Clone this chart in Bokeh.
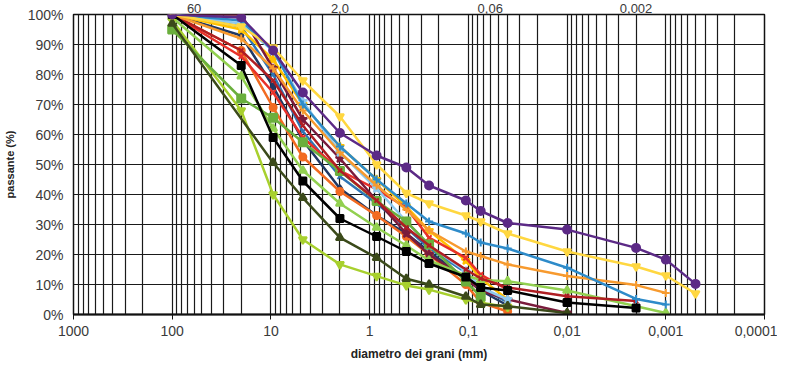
from bokeh.plotting import figure
from bokeh.models import Range1d, FixedTicker, PrintfTickFormatter, CustomJSTickFormatter, LogAxis
from bokeh.embed import file_html
from bokeh.resources import INLINE

# ---------------- data ----------------
purple_d = [100, 20, 9.5, 4.75, 2.0, 0.85, 0.425, 0.25, 0.106, 0.075, 0.04, 0.01, 0.002, 0.001, 0.0005]
purple_p = [100, 99, 88, 74, 60.5, 53, 49, 43, 38, 34.5, 30.5, 28.3, 22.2, 18.3, 10.2]

yellow_d = [100, 20, 9.5, 4.75, 2.0, 0.85, 0.425, 0.25, 0.106, 0.075, 0.04, 0.01, 0.002, 0.001, 0.0005]
yellow_p = [100, 96, 89, 78, 66, 50, 40.5, 37, 33, 31, 27, 21, 16, 13, 7]

blue_d = [100, 20, 9.5, 4.75, 2.0, 0.85, 0.425, 0.25, 0.106, 0.075, 0.04, 0.01, 0.002, 0.001]
blue_p = [100, 98, 88, 70, 56, 45, 37, 31, 27, 24, 22, 15.6, 5.2, 3.3]

orange_d = [100, 20, 9.5, 4.75, 2.0, 0.85, 0.425, 0.25, 0.106, 0.075, 0.04, 0.01, 0.002, 0.001]
orange_p = [100, 92, 82, 68, 54, 43, 35, 28, 21, 19.5, 16.7, 12.8, 9.8, 7.2]

darkred_d = [100, 20, 9.5, 4.75, 2.0, 0.85, 0.425, 0.25, 0.106, 0.075, 0.04, 0.01, 0.002]
darkred_p = [100, 88, 78, 63, 48, 38, 29, 23, 15, 12, 9, 6.1, 4.5]

black_d = [100, 20, 9.5, 4.75, 2.0, 0.85, 0.425, 0.25, 0.106, 0.075, 0.04, 0.01, 0.002]
black_p = [100, 83, 59, 44.5, 32, 26, 21, 17, 12.5, 9, 8, 4, 2.2]

olive_d = [100, 9.5, 4.75, 2.0, 0.85, 0.425, 0.25, 0.106, 0.075, 0.04, 0.01]
olive_p = [97, 50.6, 38.9, 25.6, 18.9, 11.9, 10, 6, 3.3, 2.8, 0.5]

green_d = [100, 20, 9.5, 4.75, 2.0, 0.85, 0.425, 0.25, 0.106, 0.075]
green_p = [95, 72, 65.6, 57.4, 47.8, 37.8, 31, 23.3, 11, 6]

lime_d = [100, 20, 9.5, 4.75, 2.0, 0.85, 0.425, 0.25, 0.106, 0.075, 0.04]
lime_p = [98, 68, 40, 25, 16.7, 12.8, 9.7, 8.3, 5, 3.9, 2.5]

lgreen_d = [100, 20, 9.5, 4.75, 2.0, 0.85, 0.425, 0.25, 0.106, 0.075, 0.04, 0.01, 0.001]
lgreen_p = [99, 79.4, 62, 48, 37, 29, 23, 18, 13, 11.5, 11.1, 8, 0.5]

lblue_d = [100, 20, 9.5, 4.75, 2.0, 0.85, 0.425, 0.25, 0.106, 0.075, 0.04]
lblue_p = [100, 97, 87.8, 71, 54, 42, 31, 23, 14.4, 9, 5]

maroon_d = [100, 20, 9.5, 4.75, 2.0, 0.85, 0.425, 0.25, 0.106, 0.075, 0.04, 0.01]
maroon_p = [100, 100, 82, 65, 52, 38, 27, 20, 12, 8, 5, 0.5]

red_d = [100, 20, 9.5, 4.75, 2.0, 0.85, 0.425, 0.25, 0.106, 0.075, 0.04]
red_p = [100, 86, 74, 59, 48, 41.7, 35.6, 25.6, 18.9, 13.3, 8.3]

orangered_d = [100, 20, 9.5, 4.75, 2.0, 0.85, 0.425, 0.25, 0.106, 0.075, 0.04]
orangered_p = [100, 88, 69, 52.5, 41, 33, 26, 20, 10, 4, 1]

gold_d = [100, 20, 9.5, 4.75, 2.0, 0.85, 0.425, 0.25, 0.106, 0.075, 0.04]
gold_p = [100, 95, 85, 70, 56, 45, 36, 28, 18, 12, 5]

navy_d = [100, 20, 9.5, 4.75, 2.0, 0.85, 0.425, 0.25, 0.106, 0.075, 0.04]
navy_p = [100, 93, 76, 58, 42, 33, 27, 21, 12, 8, 3]

midblue_d = [100, 20, 9.5, 4.75, 2.0, 0.85, 0.425, 0.25, 0.106, 0.075, 0.04]
midblue_p = [100, 96, 80, 61, 46, 37, 29, 22, 14, 9, 4]

x_major_ticks = [1000, 100, 10, 1, 0.1, 0.01, 0.001, 0.0001]
y_ticks = [0, 10, 20, 30, 40, 50, 60, 70, 80, 90, 100]
top_marks = [60, 2.0, 0.06, 0.002]
top_labels = ["60", "2,0", "0,06", "0,002"]

series = [
    (navy_d, navy_p, "#203864", "diamond", 7),
    (midblue_d, midblue_p, "#2F75B5", "x", 7),
    (gold_d, gold_p, "#FFC000", "star", 9),
    (orangered_d, orangered_p, "#F26B21", "circle", 7),
    (red_d, red_p, "#E8312A", "x", 7),
    (maroon_d, maroon_p, "#7A1B3C", "star", 9),
    (lblue_d, lblue_p, "#8EC9EE", "star", 9),
    (lgreen_d, lgreen_p, "#92D050", "triangle", 8),
    (lime_d, lime_p, "#A8D02E", "inverted_triangle", 8),
    (green_d, green_p, "#6AAF3D", "square", 8),
    (olive_d, olive_p, "#3B4A1A", "triangle", 8),
    (darkred_d, darkred_p, "#B01E23", "x", 6),
    (orange_d, orange_p, "#F79A2E", "cross", 8),
    (blue_d, blue_p, "#2E8BC9", "cross", 8),
    (black_d, black_p, "#000000", "square", 7),
    (yellow_d, yellow_p, "#FFD740", "inverted_triangle", 8),
    (purple_d, purple_p, "#5C2A86", "circle", 8),
]

FONT = "Liberation Sans"

p = figure(width=777, height=363, x_axis_type="log",
           x_range=Range1d(1000, 0.0001), y_range=Range1d(0, 100),
           output_backend="svg", toolbar_location=None,
           min_border_left=71, min_border_right=13, min_border_top=0, min_border_bottom=46)
p.background_fill_color = "white"
p.border_fill_color = "white"
p.outline_line_color = "#111111"
p.outline_line_width = 1.5

minor = [m * 10.0 ** k for k in range(-4, 3) for m in range(2, 10)]
p.xaxis.ticker = FixedTicker(ticks=x_major_ticks, minor_ticks=minor)
p.xaxis.formatter = CustomJSTickFormatter(code="return String(Number(tick.toPrecision(6))).replace('.', ',');")
p.yaxis.ticker = FixedTicker(ticks=y_ticks)
p.yaxis.formatter = PrintfTickFormatter(format="%d%%")

for g in (p.xgrid, p.ygrid):
    g.grid_line_color = "#1a1a1a"
    g.grid_line_width = 1.2
p.xgrid.minor_grid_line_color = "#1a1a1a"
p.xgrid.minor_grid_line_width = 1.2

for ax in (p.xaxis, p.yaxis):
    ax.axis_line_color = "#111111"
    ax.major_label_text_font = FONT
    ax.major_label_text_font_size = "14px"
    ax.major_label_text_color = "#3a3a3a"
    ax.minor_tick_line_color = None
    ax.axis_label_text_font = FONT
    ax.axis_label_text_font_style = "bold"
    ax.axis_label_text_color = "#222222"

p.xaxis.axis_line_width = 2
p.xaxis.major_tick_out = 5
p.xaxis.major_tick_in = 0
p.xaxis.major_tick_line_color = "#111111"
p.xaxis.major_label_standoff = 6
p.xaxis.axis_label = "diametro dei grani (mm)"
p.xaxis.axis_label_text_font_size = "12px"
p.xaxis.axis_label_standoff = 8

p.yaxis.major_tick_out = 0
p.yaxis.major_tick_in = 0
p.yaxis.major_label_standoff = 10
p.yaxis.axis_label = "passante (%)"
p.yaxis.axis_label_text_font_size = "11px"
p.yaxis.axis_label_standoff = 9

top_axis = LogAxis(
    ticker=FixedTicker(ticks=top_marks),
    formatter=CustomJSTickFormatter(
        args=dict(marks=top_marks, labels=top_labels),
        code="for (let i = 0; i < marks.length; i++) { if (Math.abs(Math.log10(tick) - Math.log10(marks[i])) < 1e-6) return labels[i]; } return '';"),
    axis_line_color=None, major_tick_line_color=None, minor_tick_line_color=None,
    major_tick_out=0, major_tick_in=0, major_label_standoff=2,
    major_label_text_font=FONT, major_label_text_font_size="13px",
    major_label_text_color="#3a3a3a")
p.add_layout(top_axis, "above")

for d, v, c, m, s in series:
    p.line(d, v, line_color=c, line_width=2.5)
    p.scatter(d, v, marker=m, size=s, fill_color=c, line_color=c, line_width=2)

open("out.html", "w").write(file_html(p, INLINE))
